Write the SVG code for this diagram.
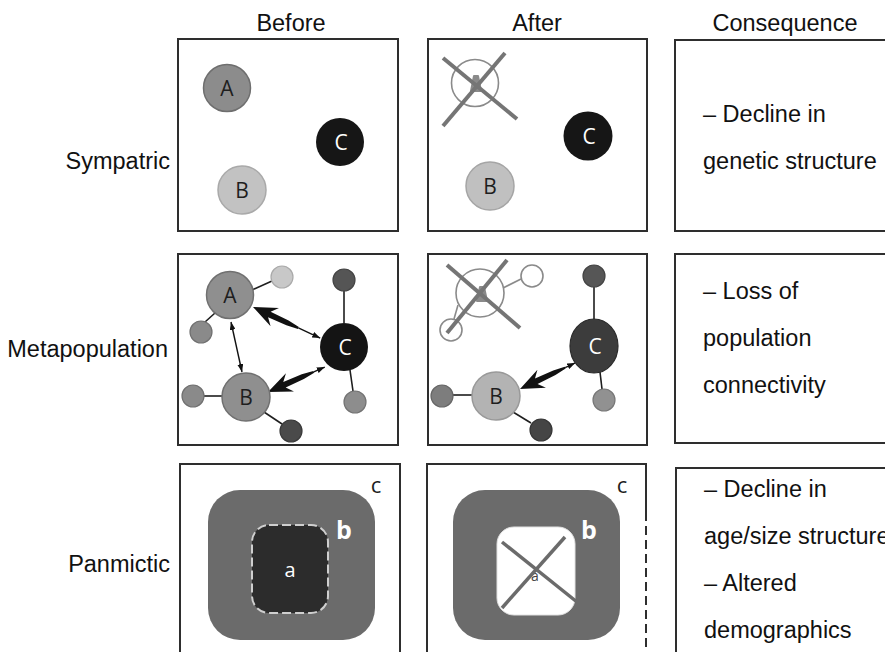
<svg xmlns="http://www.w3.org/2000/svg" width="885" height="652" viewBox="0 0 885 652">
  <style>
    .hdr { font-family: "Liberation Sans", Arial, sans-serif; font-size: 23.5px; fill: #111; }
    .row { font-family: "Liberation Sans", Arial, sans-serif; font-size: 23.5px; fill: #111; text-anchor: end; }
    .cons { font-family: "Liberation Sans", Arial, sans-serif; font-size: 23.5px; fill: #111; }
    .box { fill: none; stroke: #2e2e2e; stroke-width: 2; }
    .lbl { font-family: "Open Sans", "Noto Sans", sans-serif; font-size: 21px; text-anchor: middle; }
    .dk { fill: #1e1e1e; }
    .wh { fill: #ffffff; }
    .link { stroke: #1e1e1e; stroke-width: 1.6; fill: none; }
    .glink { stroke: #8a8a8a; stroke-width: 1.6; fill: none; }
    .gone { fill: none; stroke: #8a8a8a; stroke-width: 1.6; }
    .cross { stroke: #757575; stroke-width: 4; stroke-linecap: butt; }
    .thin { stroke: #111; stroke-width: 1.4; fill: none; }
    .zone { fill: #6b6b6b; }
    .rlbl { font-family: "Open Sans", "Noto Sans", sans-serif; text-anchor: middle; }
    .stub { fill: #8a8a8a; stroke: #8a8a8a; stroke-width: 2; stroke-linejoin: round; }
  </style>
  <defs>
    <marker id="tip" viewBox="0 0 8 6" refX="8" refY="3" markerWidth="8" markerHeight="6" markerUnits="userSpaceOnUse" orient="auto-start-reverse">
      <path d="M0,0 L8,3 L0,6 Z" fill="#111"/>
    </marker>
    <!-- heavy arrowhead with tapering shaft; tip at origin, body along +x -->
    <path id="bighead" d="M0,0 L24,-10 L18,-3 L38,-2.6 L50,-1 L50,1 L38,2.6 L18,3 L24,10 Z" fill="#111"/>
  </defs>

  <!-- column headers -->
  <g id="headers">
    <text class="hdr" x="291" y="31" text-anchor="middle">Before</text>
    <text class="hdr" x="537" y="31" text-anchor="middle">After</text>
    <text class="hdr" x="785" y="31" text-anchor="middle">Consequence</text>
  </g>

  <!-- row labels -->
  <g id="row-labels">
    <text class="row" x="170" y="169">Sympatric</text>
    <text class="row" x="168" y="357">Metapopulation</text>
    <text class="row" x="170" y="572">Panmictic</text>
  </g>

  <!-- panel frames -->
  <g id="frames">
    <rect class="box" x="178" y="39" width="220" height="192"/>
    <rect class="box" x="428" y="39" width="219" height="192"/>
    <rect class="box" x="675" y="40" width="240" height="191"/>
    <rect class="box" x="178" y="254" width="220" height="191"/>
    <rect class="box" x="428" y="254" width="219" height="191"/>
    <rect class="box" x="675" y="254" width="240" height="189"/>
    <path class="box" d="M180,652 V464 H400 V652"/>
    <path class="box" d="M427,652 V464 H646 V512"/>
    <line class="box" x1="646" y1="512" x2="646" y2="652" stroke-dasharray="9 5"/>
    <path class="box" d="M676,652 V468 H900"/>
  </g>

  <!-- Sympatric, before -->
  <g id="sym-before">
    <g id="sym-before-A">
      <circle cx="227" cy="88" r="23.5" fill="#8c8c8c" stroke="#6e6e6e" stroke-width="1.5"/>
      <text class="lbl dk" x="227" y="96">A</text>
    </g>
    <g id="sym-before-C">
      <circle cx="340" cy="142" r="24" fill="#161616"/>
      <text class="lbl wh" x="341" y="150">C</text>
    </g>
    <g id="sym-before-B">
      <circle cx="242" cy="190" r="24" fill="#c2c2c2" stroke="#a9a9a9" stroke-width="1.5"/>
      <text class="lbl dk" x="242" y="198">B</text>
    </g>
  </g>

  <!-- Sympatric, after -->
  <g id="sym-after">
    <g id="sym-after-A-lost">
      <circle class="gone" cx="475" cy="83" r="23.5"/>
      <path class="stub" d="M471,91 L474,76 L478,76 L481,91 Z"/>
      <line class="cross" x1="443" y1="58" x2="517" y2="119"/>
      <line class="cross" x1="505" y1="53" x2="443" y2="126"/>
    </g>
    <g id="sym-after-C">
      <circle cx="588" cy="136" r="24.5" fill="#161616"/>
      <text class="lbl wh" x="589" y="144">C</text>
    </g>
    <g id="sym-after-B">
      <circle cx="490" cy="186" r="24" fill="#c0c0c0" stroke="#a5a5a5" stroke-width="1.5"/>
      <text class="lbl dk" x="490" y="194">B</text>
    </g>
  </g>

  <!-- Metapopulation, before: links and dispersal arrows -->
  <g id="meta-before-connectors">
    <line class="link" x1="252" y1="290" x2="272" y2="281"/>
    <line class="link" x1="215" y1="313" x2="205" y2="322"/>
    <line class="link" x1="344" y1="290" x2="344" y2="323"/>
    <line class="link" x1="350" y1="370" x2="353" y2="391"/>
    <line class="link" x1="204" y1="396" x2="222" y2="396"/>
    <line class="link" x1="264" y1="412" x2="282" y2="424"/>
    <line class="thin" x1="231" y1="322" x2="242" y2="372" marker-start="url(#tip)" marker-end="url(#tip)"/>
    <g transform="translate(253,307) rotate(24.8)">
      <use href="#bighead"/>
      <line class="thin" x1="50" y1="0" x2="74" y2="0" marker-end="url(#tip)"/>
    </g>
    <g transform="translate(268,392) rotate(-23.7)">
      <use href="#bighead"/>
      <line class="thin" x1="50" y1="0" x2="62" y2="0" marker-end="url(#tip)"/>
    </g>
  </g>
  <g id="meta-before">
    <circle id="mb-a1" cx="282" cy="277" r="11" fill="#c8c8c8" stroke="#aaaaaa" stroke-width="1.2"/>
    <circle id="mb-a2" cx="201" cy="332" r="11" fill="#8a8a8a" stroke="#707070" stroke-width="1.2"/>
    <circle id="mb-c1" cx="344" cy="280" r="11" fill="#555555" stroke="#444444" stroke-width="1.2"/>
    <circle id="mb-c2" cx="355" cy="402" r="11" fill="#8d8d8d" stroke="#737373" stroke-width="1.2"/>
    <circle id="mb-b1" cx="193" cy="396" r="11" fill="#8a8a8a" stroke="#707070" stroke-width="1.2"/>
    <circle id="mb-b2" cx="291" cy="431" r="11" fill="#4a4a4a" stroke="#3a3a3a" stroke-width="1.2"/>
    <g id="meta-before-A">
      <circle cx="230" cy="295" r="23.5" fill="#8f8f8f" stroke="#707070" stroke-width="1.5"/>
      <text class="lbl dk" x="230" y="303">A</text>
    </g>
    <g id="meta-before-C">
      <circle cx="344" cy="347" r="24" fill="#141414"/>
      <text class="lbl wh" x="345" y="355">C</text>
    </g>
    <g id="meta-before-B">
      <circle cx="246" cy="397" r="24" fill="#8f8f8f" stroke="#707070" stroke-width="1.5"/>
      <text class="lbl dk" x="246" y="405">B</text>
    </g>
  </g>

  <!-- Metapopulation, after -->
  <g id="meta-after-connectors">
    <line class="glink" x1="503" y1="288" x2="521" y2="279"/>
    <line class="glink" x1="458" y1="305" x2="454" y2="319"/>
    <line class="link" x1="594" y1="287" x2="594" y2="319"/>
    <line class="link" x1="600" y1="372" x2="602" y2="389"/>
    <line class="link" x1="453" y1="395" x2="472" y2="395"/>
    <line class="link" x1="513" y1="412" x2="531" y2="423"/>
    <g transform="translate(520,389) rotate(-25.3)">
      <use href="#bighead"/>
      <line class="thin" x1="50" y1="0" x2="61" y2="0" marker-end="url(#tip)"/>
    </g>
  </g>
  <g id="meta-after">
    <g id="meta-after-A-lost">
      <circle class="gone" cx="480" cy="293" r="24"/>
      <circle class="gone" cx="532" cy="276" r="11"/>
      <circle class="gone" cx="451" cy="330" r="11"/>
      <path class="stub" d="M477,301 L480,287 L484,287 L487,301 Z"/>
      <line class="cross" x1="447" y1="265" x2="520" y2="328"/>
      <line class="cross" x1="507" y1="260" x2="447" y2="333"/>
    </g>
    <circle id="ma-c1" cx="594" cy="276" r="11" fill="#565656" stroke="#444444" stroke-width="1.2"/>
    <circle id="ma-c2" cx="604" cy="400" r="11" fill="#919191" stroke="#777777" stroke-width="1.2"/>
    <circle id="ma-b1" cx="442" cy="396" r="11" fill="#7d7d7d" stroke="#666666" stroke-width="1.2"/>
    <circle id="ma-b2" cx="541" cy="430" r="11" fill="#454545" stroke="#363636" stroke-width="1.2"/>
    <g id="meta-after-C">
      <ellipse cx="594" cy="346" rx="24" ry="27" fill="#3c3c3c" stroke="#2a2a2a" stroke-width="1.2"/>
      <text class="lbl wh" x="595" y="354">C</text>
    </g>
    <g id="meta-after-B">
      <circle cx="496" cy="396" r="24" fill="#b3b3b3" stroke="#999999" stroke-width="1.5"/>
      <text class="lbl dk" x="496" y="404">B</text>
    </g>
  </g>

  <!-- Panmictic, before: nested habitat zones -->
  <g id="pan-before">
    <rect class="zone" x="208" y="490" width="167" height="150" rx="32"/>
    <rect x="252" y="525" width="76" height="88" rx="17" fill="#2c2c2c" stroke="#cfcfcf" stroke-width="2" stroke-dasharray="9 4"/>
    <text class="rlbl" x="290" y="577" font-size="20" fill="#ffffff">a</text>
    <text class="rlbl" x="344" y="539" font-size="25" font-weight="bold" fill="#ffffff">b</text>
    <text class="rlbl" x="376" y="493" font-size="22" fill="#1e1e1e">c</text>
  </g>

  <!-- Panmictic, after: core zone removed -->
  <g id="pan-after">
    <rect class="zone" x="453" y="490" width="167" height="150" rx="32"/>
    <rect x="497" y="527" width="78" height="88" rx="17" fill="#ffffff" stroke="#e2e2e2" stroke-width="1"/>
    <text class="rlbl" x="535" y="581" font-size="14" fill="#444444">a</text>
    <line stroke="#6b6b6b" stroke-width="3.5" x1="502" y1="542" x2="577" y2="602"/>
    <line stroke="#6b6b6b" stroke-width="3.5" x1="565" y1="537" x2="502" y2="608"/>
    <text class="rlbl" x="589" y="539" font-size="25" font-weight="bold" fill="#ffffff">b</text>
    <text class="rlbl" x="622" y="493" font-size="22" fill="#1e1e1e">c</text>
  </g>

  <!-- consequences -->
  <g id="cons-sympatric">
    <text class="cons" x="703" y="122">– Decline in</text>
    <text class="cons" x="703" y="169">genetic structure</text>
  </g>
  <g id="cons-metapopulation">
    <text class="cons" x="703" y="299">– Loss of</text>
    <text class="cons" x="703" y="346">population</text>
    <text class="cons" x="703" y="393">connectivity</text>
  </g>
  <g id="cons-panmictic">
    <text class="cons" x="704" y="497">– Decline in</text>
    <text class="cons" x="704" y="544">age/size structure</text>
    <text class="cons" x="704" y="591">– Altered</text>
    <text class="cons" x="704" y="638">demographics</text>
  </g>
</svg>
